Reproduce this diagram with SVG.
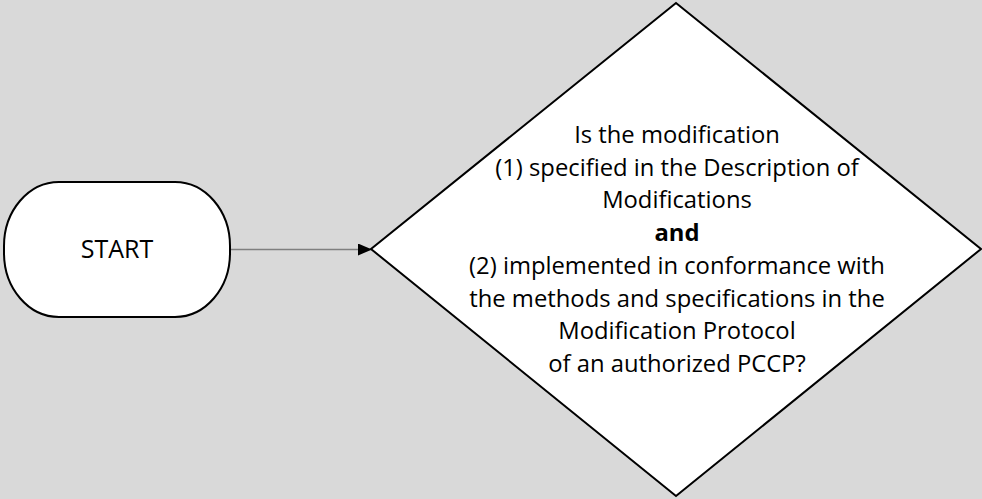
<svg xmlns="http://www.w3.org/2000/svg" width="982" height="499" viewBox="0 0 982 499">
<style>
.shape{fill:#ffffff;stroke:#000000;stroke-width:2}
.t{font-family:"Open Sans","Liberation Sans",sans-serif;font-size:23.8px;fill:#000;text-anchor:middle}
.b{font-weight:bold}
</style>
<defs>
<marker id="ah" markerWidth="14" markerHeight="12" refX="13" refY="6" orient="auto" markerUnits="userSpaceOnUse">
<path d="M0,0 L14,6 L0,12 Z" fill="#000"/>
</marker>
</defs>
<rect width="982" height="499" fill="#d9d9d9"/>
<g id="connectors">
<line x1="230" y1="249.5" x2="371" y2="249.5" stroke="#7f7f7f" stroke-width="1.5" marker-end="url(#ah)"/>
</g>
<g id="start">
<rect class="shape" x="4" y="182" width="226" height="135" rx="55" ry="64"/>
<text class="t" x="117" y="258" style="font-size:25px">START</text>
</g>
<g id="decision">
<polygon class="shape" points="676,3 981,249 676,496 371,249"/>
<text class="t" x="677" y="143">Is the modification</text>
<text class="t" x="677" y="176">(1) specified in the Description of</text>
<text class="t" x="677" y="208">Modifications</text>
<text class="t b" x="677" y="241">and</text>
<text class="t" x="677" y="274">(2) implemented in conformance with</text>
<text class="t" x="677" y="307">the methods and specifications in the</text>
<text class="t" x="677" y="339">Modification Protocol</text>
<text class="t" x="677" y="372">of an authorized PCCP?</text>
</g>
</svg>
